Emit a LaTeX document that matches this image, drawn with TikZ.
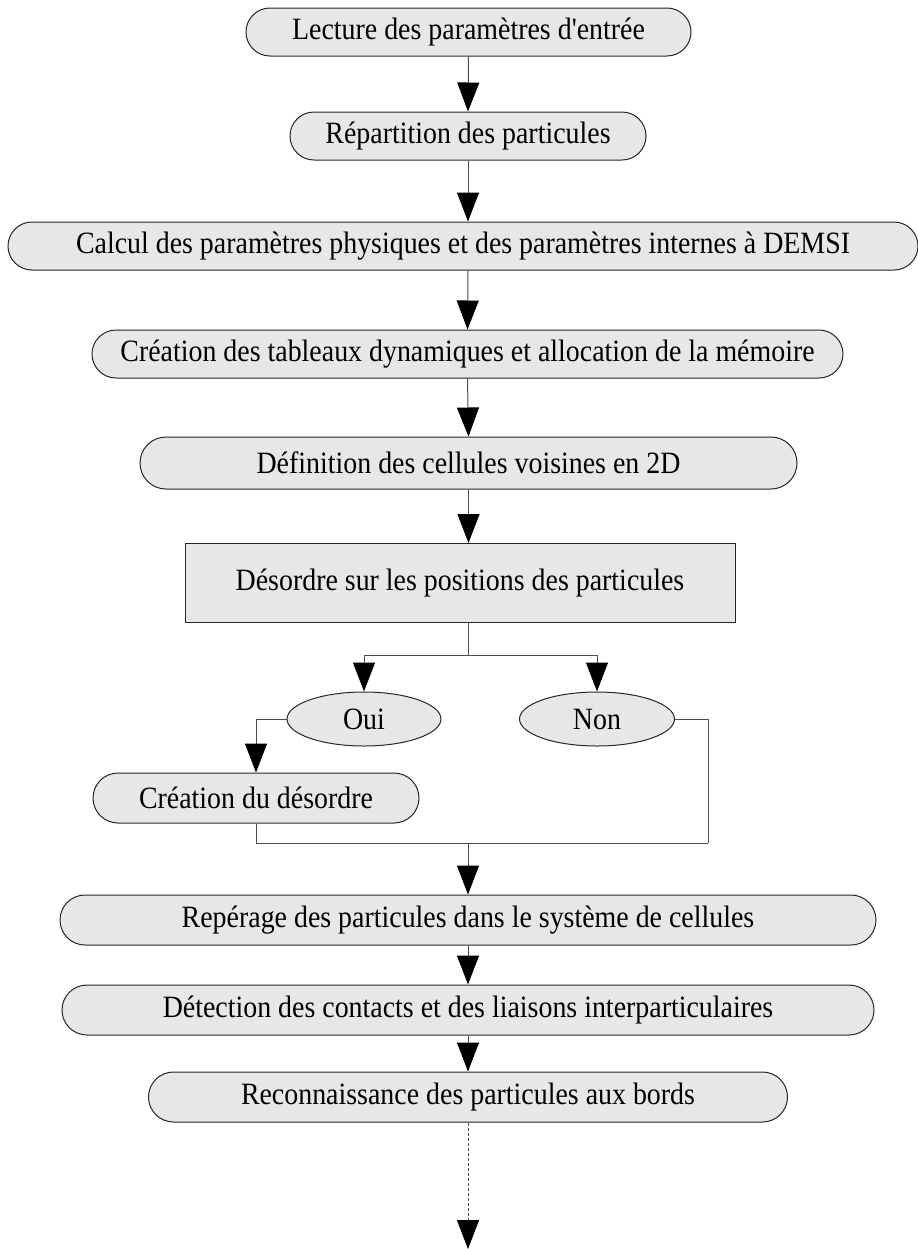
\documentclass[tikz,border=0pt]{standalone}
\usepackage{fontspec}
\setmainfont{Liberation Serif}[Ligatures=TeXOff, FakeStretch=0.9]
\usetikzlibrary{arrows.meta,shapes.geometric,shapes.misc}
\definecolor{boxfill}{gray}{0.905}
\definecolor{linec}{gray}{0.3}
\begin{document}
\begin{tikzpicture}[x=0.5pt,y=-0.5pt,
  every node/.style={font=\fontsize{15.5}{18}\selectfont, text=black},
  stadium/.style={rounded rectangle, draw=black!85, fill=boxfill, line width=0.5pt,
    minimum height=24pt, inner sep=0pt},
  rectbox/.style={rectangle, draw=black!85, fill=boxfill, line width=0.5pt, inner sep=0pt},
  ovalbox/.style={ellipse, draw=black!85, fill=boxfill, line width=0.5pt, inner sep=0pt},
  conn/.style={draw=linec, line width=0.5pt},
  arr/.style={conn, -{Triangle[width=11pt,length=14.5pt,fill=black,color=black]}}]
\useasboundingbox (0,0) rectangle (917,1249);
\node[stadium, minimum width=222.5pt] (lect) at (468.5,32) {Lecture des paramètres d'entrée};
\node[stadium, minimum width=178pt] (rep) at (468,136) {Répartition des particules};
\node[stadium, minimum width=455pt] (calc) at (463,246) {Calcul des paramètres physiques et des paramètres internes à DEMSI};
\node[stadium, minimum width=375.5pt] (tab) at (467.5,354) {Création des tableaux dynamiques et allocation de la mémoire};
\node[stadium, minimum width=328.5pt, minimum height=26pt] (def) at (468.5,463) {Définition des cellules voisines en 2D};
\node[rectbox, minimum width=275pt, minimum height=39.5pt] (des) at (460,583) {Désordre sur les positions des particules};
\node[ovalbox, minimum width=77pt, minimum height=27pt] (oui) at (364,719) {Oui};
\node[ovalbox, minimum width=77.5pt, minimum height=27pt] (non) at (597,719) {Non};
\node[stadium, minimum width=163pt, minimum height=25pt] (cdd) at (256,798) {Création du désordre};
\node[stadium, minimum width=408pt, minimum height=25pt] (repe) at (468,920) {Repérage des particules dans le système de cellules};
\node[stadium, minimum width=406pt, minimum height=25pt] (det) at (468,1010) {Détection des contacts et des liaisons interparticulaires};
\node[stadium, minimum width=319.5pt, minimum height=25pt] (rec) at (468,1097) {Reconnaissance des particules aux bords};
\coordinate (j) at (468,655);
\coordinate (m) at (468,843);
\coordinate (nr) at (708,843);
\coordinate (fin) at (468,1249);
\draw[arr] (lect.south) -- (rep.north);
\draw[arr] (rep.south) -- (rep.south |- calc.north);
\draw[arr] (calc.south -| rep.south) -- (tab.north);
\draw[arr] (tab.south) -- (def.north);
\draw[arr] (def.south) -- (def.south |- des.north);
\draw[conn] (des.south -| j) -- (j);
\draw[arr] (j) -| (oui.north);
\draw[arr] (j) -| (non.north);
\draw[arr] (oui.west) -| (cdd.north);
\draw[conn] (cdd.south) |- (nr);
\draw[conn] (non.east) -| (nr);
\draw[arr] (m) -- (repe.north);
\draw[arr] (repe.south) -- (det.north);
\draw[arr] (det.south) -- (rec.north);
\draw[arr, dash pattern=on 1.5pt off 1pt] (rec.south) -- (fin);
\end{tikzpicture}
\end{document}
